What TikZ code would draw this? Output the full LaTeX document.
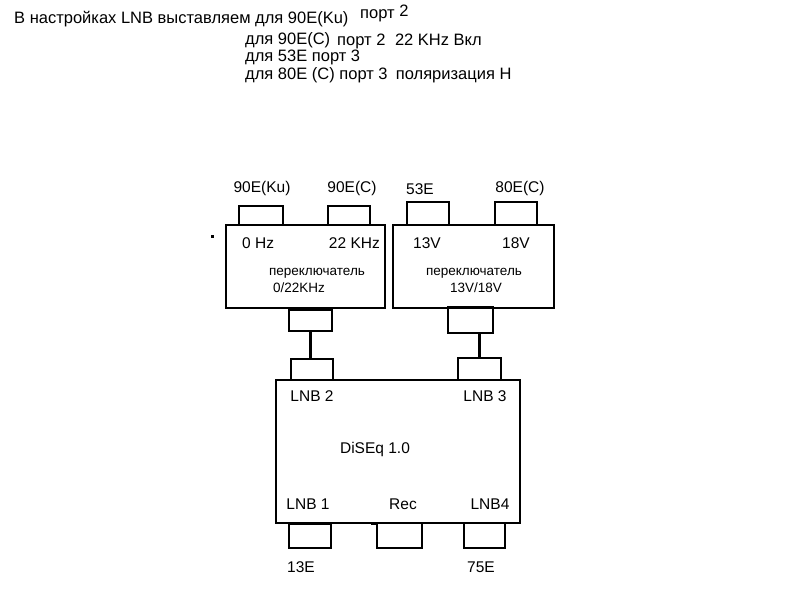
\documentclass[tikz,border=0pt]{standalone}
\usepackage{fontspec}
\setmainfont{Liberation Sans}
\begin{document}
\begin{tikzpicture}[x=1pt,y=-1pt,
  box/.style={draw,line width=1.8pt,inner sep=0pt,outer sep=0pt},
  hdr/.style={inner sep=0pt,font=\fontsize{16.5}{18}\selectfont},
  lbl/.style={inner sep=0pt,font=\fontsize{15.5}{17}\selectfont},
  sml/.style={inner sep=0pt,font=\fontsize{13.5}{15}\selectfont},
  wire/.style={line width=3.5pt}]
\useasboundingbox (0,0) rectangle (800,600);
% header text
\node[hdr,anchor=west] (h1) at (14,19) {В настройках LNB выставляем для 90E(Ku)};
\node[hdr,anchor=west] (h1b) at (360,13) {порт \raisebox{2pt}{2}};
\node[hdr,anchor=west] (h2) at (245,40) {для 90E(C)};
\node[hdr,anchor=west] (h2b) at (337,41) {порт 2\hspace{5pt} 22 KHz Вкл};
\node[hdr,anchor=west] (h3) at (245,57) {для 53E порт 3};
\node[hdr,anchor=west] (h4) at (245,75) {для 80E (C) порт 3\enspace поляризация Н};
% switches
\node[box,minimum width=159pt,minimum height=83pt] (sw1) at (305.5,266.5) {};
\node[box,minimum width=161pt,minimum height=83pt] (sw2) at (473.5,266.5) {};
% input boxes
\node[box,minimum width=44pt,minimum height=19pt] (in1) at (261,215.5) {};
\node[box,minimum width=42pt,minimum height=19pt] (in2) at (349,215.5) {};
\node[box,minimum width=42pt,minimum height=23pt] (in3) at (428,213.5) {};
\node[box,minimum width=42pt,minimum height=23pt] (in4) at (516,213.5) {};
\coordinate (tick1) at (379,225);
\draw[line width=1.8pt] (in2.south east) -- (tick1);
\fill (211,235) rectangle (214,238);
% input labels
\node[lbl] (l1) at (262,188) {90E(Ku)};
\node[lbl] (l2) at (352,188) {90E(C)};
\node[lbl,anchor=base west] (l3) at (406,194) {53E};
\node[lbl] (l4) at (520,188) {80E(C)};
\node[lbl,anchor=west] (t1) at (242,243) {0 Hz};
\node[lbl,anchor=east] (t2) at (380,243) {22 KHz};
\node[lbl,anchor=west] (t3) at (413,243) {13V};
\node[lbl] (t4) at (516,243) {18V};
\node[sml] (s1) at (317,273) {переключатель};
\node[sml] (s2) at (299,288) {0/22KHz};
\node[sml] (s3) at (474,273) {переключатель};
\node[sml] (s4) at (476,288) {13V/18V};
% output boxes of switches
\node[box,minimum width=43pt,minimum height=21pt] (o1) at (310.5,320.5) {};
\node[box,minimum width=45pt,minimum height=26pt] (o2) at (470.5,320) {};
% DiSEq
\node[box,minimum width=244pt,minimum height=143pt] (dq) at (398,451.5) {};
\node[box,minimum width=42pt,minimum height=21pt] (lnb2) at (312,369.5) {};
\node[box,minimum width=43pt,minimum height=22pt] (lnb3) at (479.5,369) {};
\draw[wire] (o1.south) -- (o1.south |- lnb2.north);
\draw[wire] (lnb3.north) -- (lnb3.north |- o2.south);
\node[box,minimum width=42pt,minimum height=25pt] (lnb1) at (310,535.5) {};
\node[box,minimum width=45pt,minimum height=25pt] (rec) at (399.5,535.5) {};
\node[box,minimum width=41pt,minimum height=25pt] (lnb4) at (484.5,535.5) {};
\draw[line width=3pt] (lnb1.north west) -- (lnb1.north east);
\coordinate (tick2) at (371,523);
\draw[line width=3pt] (tick2) -- (rec.north west);
\node[lbl] (d1) at (312,396) {LNB 2};
\node[lbl] (d2) at (485,396) {LNB 3};
\node[lbl] (d3) at (375,449) {DiSEq 1.0};
\node[lbl] (d4) at (308,504) {LNB 1};
\node[lbl] (d5) at (403,504) {Rec};
\node[lbl] (d6) at (490,504) {LNB4};
\node[lbl] (d7) at (301,567) {13E};
\node[lbl] (d8) at (481,567) {75E};
\end{tikzpicture}
\end{document}
